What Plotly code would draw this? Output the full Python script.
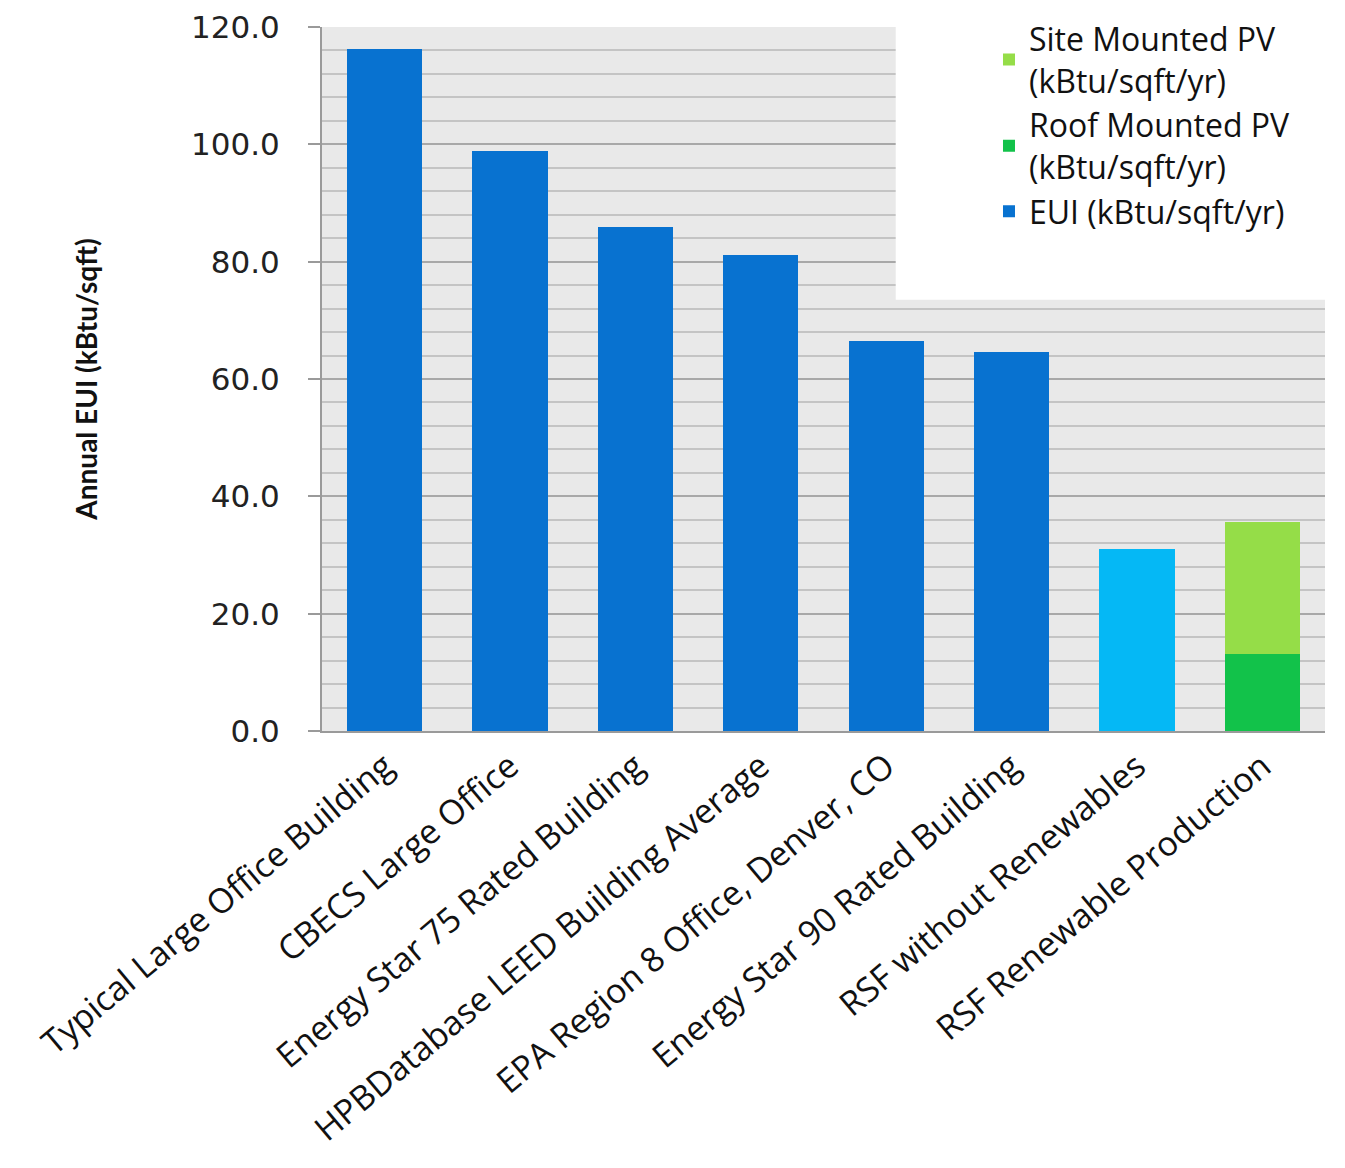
import plotly.graph_objects as go

categories = [
    "Typical Large Office Building",
    "CBECS Large Office",
    "Energy Star 75 Rated Building",
    "HPBDatabase LEED Building Average",
    "EPA Region 8 Office, Denver, CO",
    "Energy Star 90 Rated Building",
    "RSF without Renewables",
    "RSF Renewable Production",
]
eui = [116.3, 98.8, 85.9, 81.1, 66.4, 64.6, 31.1, None]
roof_pv = [None, None, None, None, None, None, None, 13.2]
site_pv = [None, None, None, None, None, None, None, 22.5]
y_ticks = [0, 20, 40, 60, 80, 100, 120]
y_tick_labels = ["0.0", "20.0", "40.0", "60.0", "80.0", "100.0", "120.0"]

eui_colors = ["#0872d0"] * 6 + ["#05b8f5", "#0872d0"]

fig = go.Figure()
fig.add_trace(go.Bar(
    x=categories, y=eui, name="EUI (kBtu/sqft/yr)",
    marker=dict(color=eui_colors, line=dict(width=0)),
))
fig.add_trace(go.Bar(
    x=categories, y=roof_pv, name="Roof Mounted PV<br>(kBtu/sqft/yr)",
    marker=dict(color="#12c24a", line=dict(width=0)),
))
fig.add_trace(go.Bar(
    x=categories, y=site_pv, name="Site Mounted PV<br>(kBtu/sqft/yr)",
    marker=dict(color="#95dd48", line=dict(width=0)),
))

# white area behind legend, covering gridlines in upper right
fig.add_shape(type="rect", xref="paper", yref="paper",
              x0=0.572, x1=1.05, y0=0.6125, y1=1.05,
              fillcolor="white", line=dict(width=0), layer="above")

fig.update_layout(
    width=1345, height=1168,
    barmode="stack", bargap=0.4,
    paper_bgcolor="white", plot_bgcolor="#e9e9e9",
    margin=dict(l=314, r=28, t=19, b=445, autoexpand=False),
    font=dict(family="Open Sans", color="#111111"),
    legend=dict(
        x=0.665, y=1.022, xanchor="left", yanchor="top",
        bgcolor="rgba(255,255,255,0)",
        font=dict(family="Open Sans", size=32, color="#111111"),
        tracegroupgap=10,
    ),
    showlegend=True,
)
fig.update_xaxes(
    tickangle=-40,
    tickfont=dict(family="Open Sans", size=34, color="#111111"),
    showline=True, linecolor="#9a9a9a", linewidth=2,
    showgrid=False, ticks="",
)
fig.update_yaxes(
    range=[0, 120],
    tickvals=y_ticks, ticktext=y_tick_labels,
    tickfont=dict(family="DejaVu Sans", size=31, color="#222222"),
    showline=True, linecolor="#9a9a9a", linewidth=2,
    ticks="outside", ticklen=12, tickcolor="#9a9a9a", tickwidth=2,
    ticklabelstandoff=22,
    showgrid=True, gridcolor="#a8a8a8", gridwidth=2,
    minor=dict(dtick=4, showgrid=True, gridcolor="#c4c4c4", gridwidth=2),
    zeroline=False,
    title=dict(text="<b>Annual EUI (kBtu/sqft)</b>", standoff=85,
               font=dict(family="Lato", size=28, color="#111111")),
)

fig.write_html("out.html")
